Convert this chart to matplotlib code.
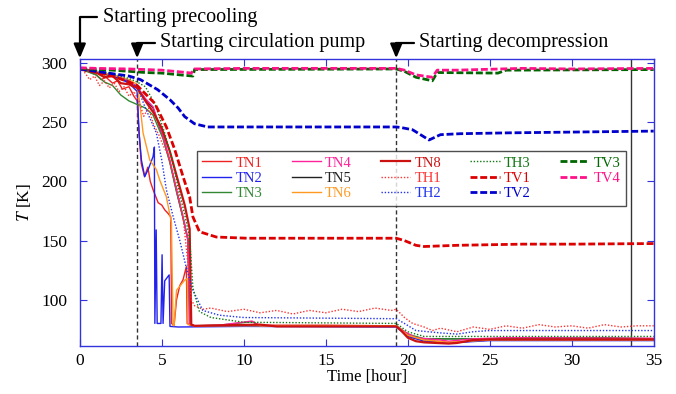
import matplotlib
matplotlib.use('Agg')
import matplotlib.pyplot as plt

# Datos (tiempo en horas, temperatura en K)
tn1_time = [0, 0.5, 1, 1.3, 1.6, 2, 2.3, 2.6, 3, 3.3, 3.5, 3.6, 3.75, 3.95, 4.15, 4.3, 4.47, 4.78, 5.0, 5.18,
            5.38, 5.55, 5.6, 5.75, 5.9, 6.1, 6.3, 6.5, 6.55, 7, 10, 15, 19.3, 19.8, 20.3, 21, 22.5, 24, 25, 35]
tn1_temp = [295, 293, 290, 286, 288, 283, 285, 278, 280, 272, 268, 245, 215, 204, 212, 200, 193, 182, 180, 176,
            173, 170, 80, 78, 100, 112, 117, 128, 80, 78, 78.5, 78.5, 78, 73, 68, 66, 64, 65, 66, 66]

tn2_time = [0, 1, 2, 3, 3.5, 3.62, 3.76, 3.96, 4.17, 4.47, 4.55, 4.58, 4.66, 4.72, 4.95, 5.02, 5.08,
            5.18, 5.45, 5.5, 6, 10, 19.3, 20, 21, 22.5, 25, 35]
tn2_temp = [295, 293, 290, 283, 276, 240, 218, 204, 210, 221, 229, 80, 159, 80, 80, 138, 80,
            116, 121, 77.5, 77, 77.5, 77, 69, 65, 63.5, 65.5, 65.5]

tn3_time = [0, 1, 1.5, 2, 2.5, 3, 3.5, 4, 4.47, 5.08, 5.49, 5.9, 6.3, 6.6, 6.7, 7, 8.5, 10.5, 11,
            19.3, 20, 21, 25, 27, 32, 35]
tn3_temp = [295, 290, 284, 281, 273, 268, 265, 262, 256, 236, 216, 191, 169, 150, 79, 78, 78.5, 81.5, 78,
            78, 71, 67, 67, 68, 68, 67]

tn4_time = [0, 1, 2, 3, 3.5, 4, 4.47, 5.08, 5.49, 5.9, 6.3, 6.6, 6.7, 7, 8.5, 10.5, 11,
            19.3, 19.8, 20.5, 22, 22.5, 24, 26, 35]
tn4_temp = [296, 293, 290, 285, 280, 270, 263, 238, 218, 193, 170, 150, 79, 78, 78.5, 82, 78,
            78, 73, 68, 66, 65, 67, 68, 67.5]

tn5_time = [0, 1, 2, 3, 3.5, 4, 4.47, 5.08, 5.49, 5.9, 6.3, 6.6, 6.7, 7, 19.3, 20, 21, 25, 35]
tn5_temp = [295, 292, 289, 284, 279, 269, 262, 237, 217, 192, 169, 151, 79, 78, 78, 70, 67, 67, 67]

tn6_time = [0, 1, 2, 3, 3.5, 3.66, 3.86, 4.27, 4.67, 4.88, 5.28, 5.59, 5.69, 5.75, 5.9, 6.4, 6.55,
            6.6, 7, 19.3, 20, 21, 22.5, 25, 35]
tn6_temp = [295, 293, 290, 286, 282, 266, 241, 218, 210, 201, 187, 165, 78.5, 78, 108, 116.5, 118,
            79, 78, 78, 70, 66, 64, 66, 66]

tn8_time = [0, 1, 1.5, 2, 2.5, 3, 3.5, 4, 4.5, 5, 5.5, 6, 6.4, 6.7, 6.8, 7, 11, 12, 19.3, 19.6, 20, 20.5,
            21, 22.5, 23, 24, 25, 35]
tn8_temp = [296, 292, 288, 289, 283, 282, 279, 268, 258, 245, 225, 200, 180, 160, 79, 78, 79, 77.5, 77.5, 74,
            68, 65, 64, 63, 63.5, 66, 66.5, 66.5]

th1_time = [0, 0.3, 0.6, 0.9, 1.2, 1.5, 1.8, 2.1, 2.4, 2.7, 3.0, 3.3, 3.6, 3.9, 4.2, 4.5, 4.8, 5.1, 5.4,
            5.7, 6.0, 6.3, 6.6, 6.8, 7.0, 7.5, 8, 9, 10, 11, 12, 13, 14, 15, 16, 17, 18, 19, 19.3,
            19.8, 20.3, 21, 21.5, 22, 23, 24, 25, 26, 27, 28, 29, 30, 31, 32, 33, 34, 35]
th1_temp = [296, 292, 286, 289, 281, 285, 279, 283, 276, 280, 272, 276, 268, 255, 262, 248, 240, 230, 222,
            205, 190, 170, 130, 100, 95, 92, 93, 90, 92, 89, 91, 88, 91, 89, 92, 90, 93, 91, 92,
            85, 80, 77, 74, 76, 73, 77, 75, 78, 76, 79, 77, 78, 76, 79, 77, 78, 78]

th2_time = [0, 1, 2, 3, 3.5, 4.0, 4.67, 5.0, 5.28, 5.7, 6.1, 6.5, 6.9, 7.5, 8.5, 10, 19.3,
            19.8, 20.5, 22, 23, 24, 25, 35]
th2_temp = [295, 293, 290, 285, 280, 262, 241, 218, 193, 170, 150, 127, 108, 91, 87, 85, 84,
            80, 74, 72, 71, 73, 74, 74]

th3_time = [0, 1, 2, 3, 3.5, 4, 4.6, 5.2, 5.6, 6.0, 6.4, 6.7, 6.9, 7.3, 8, 10, 19.3, 20, 21, 25, 35]
th3_temp = [295, 294, 291, 287, 284, 280, 265, 240, 220, 195, 172, 152, 110, 90, 85, 81, 80, 73, 69, 69, 69]

tv1_time = [0, 1, 2, 3, 3.5, 4, 4.57, 5.28, 5.79, 6.3, 6.7, 6.9, 7.3, 8.33, 10.2, 19.3, 19.8, 20.5,
            21, 23, 27, 30, 35]
tv1_temp = [295, 292, 289, 284, 281, 274, 266, 246, 227, 204, 187, 170, 157.5, 153, 152, 152, 150, 146,
            145, 146, 147, 147, 147.5]

tv2_time = [0, 1, 2, 3, 3.7, 4.75, 5.5, 6, 6.4, 7, 7.8, 19.3, 19.6, 20.3, 21.3, 22, 23.2, 26, 35]
tv2_temp = [295, 293, 291, 289, 286, 277.5, 269, 262, 254.7, 248.7, 246, 246, 245.5, 243.6, 235, 239.5, 240.3,
            241, 242.5]

tv3_time = [0, 2, 4, 5, 6.5, 6.9, 7.0, 19.3, 19.8, 20.5, 21.5, 21.8, 25.5, 26, 35]
tv3_temp = [295.5, 294, 292, 291.5, 289.5, 289, 294.5, 295, 293, 288, 285, 292, 291.5, 294, 294.5]

tv4_time = [0, 1, 3, 5, 6.5, 6.8, 7.0, 10, 19.3, 19.8, 20.5, 21.5, 21.8, 23, 27, 30, 35]
tv4_temp = [296, 295.5, 295, 294, 292, 291.5, 295, 295.5, 295.5, 294, 290, 288, 294, 294, 295.5, 295, 295.5]

# Eventos marcados en la gráfica
event_times = [0, 3.5, 19.3]
event_labels = ['Starting precooling', 'Starting circulation pump', 'Starting decompression']
event_label_y = [1.148, 1.058, 1.058]
stop_time = 33.6

plt.rcParams['font.family'] = ['Liberation Serif', 'DejaVu Serif']
plt.rcParams['mathtext.fontset'] = 'stix'

fig = plt.figure(figsize=(6.76, 3.94), dpi=100)
ax = fig.add_axes([0.118, 0.122, 0.849, 0.727])

# Estilos de cada serie
tn_lw = 1.0
th_ls = (0, (1, 1.3))
tv_ls = (0, (2.5, 1.0))
ax.plot(tn5_time, tn5_temp, color='#222222', lw=tn_lw, label='TN5')
ax.plot(tn1_time, tn1_temp, color='#ee2222', lw=tn_lw, label='TN1')
ax.plot(tn2_time, tn2_temp, color='#2222ee', lw=tn_lw, label='TN2')
ax.plot(tn3_time, tn3_temp, color='#338833', lw=tn_lw, label='TN3')
ax.plot(tn4_time, tn4_temp, color='#ff2299', lw=tn_lw, label='TN4')
ax.plot(tn6_time, tn6_temp, color='#ff9922', lw=tn_lw, label='TN6')
ax.plot(tn8_time, tn8_temp, color='#cc1111', lw=1.6, label='TN8')
ax.plot(th1_time, th1_temp, color='#ff3333', lw=1.0, ls=th_ls, label='TH1')
ax.plot(th2_time, th2_temp, color='#2233ee', lw=1.0, ls=th_ls, label='TH2')
ax.plot(th3_time, th3_temp, color='#117711', lw=1.0, ls=th_ls, label='TH3')
ax.plot(tv1_time, tv1_temp, color='#dd0000', lw=2.0, ls=tv_ls, label='TV1')
ax.plot(tv2_time, tv2_temp, color='#0000cc', lw=2.0, ls=tv_ls, label='TV2')
ax.plot(tv3_time, tv3_temp, color='#006600', lw=2.0, ls=tv_ls, label='TV3')
ax.plot(tv4_time, tv4_temp, color='#ff1188', lw=2.0, ls=tv_ls, label='TV4')

# Líneas verticales de eventos
for t in event_times[1:]:
    ax.axvline(t, color='#333333', lw=1.0, ls=(0, (3, 2)), zorder=1)
ax.axvline(stop_time, color='#333333', lw=1.0, zorder=1)

ax.set_xlim(0, 35)
ax.set_ylim(61, 303)
ax.set_xticks([0, 5, 10, 15, 20, 25, 30, 35])
ax.set_yticks([100, 150, 200, 250, 300])
ax.set_xlabel('Time [hour]', fontsize=12, labelpad=0)
ax.set_ylabel('$T$ [K]', fontsize=12.5, labelpad=6)

frame_color = '#3333dd'
for s in ax.spines.values():
    s.set_color(frame_color)
    s.set_linewidth(1.0)
ax.tick_params(direction='in', length=5, color=frame_color, labelsize=12.5,
               top=True, right=True, labelcolor='black')
ax.tick_params(axis='y', pad=9)
ax.tick_params(axis='x', pad=5)

# Leyenda en orden de columnas como en la figura original
order = ['TN1', 'TN2', 'TN3', 'TN4', 'TN5', 'TN6', 'TN8', 'TH1', 'TH2', 'TH3', 'TV1', 'TV2', 'TV3', 'TV4']
handles = {h.get_label(): h for h in ax.get_lines() if not h.get_label().startswith('_')}
leg = ax.legend([handles[k] for k in order], order, ncol=5, loc='center',
                bbox_to_anchor=(0.204, 0.482, 0.747, 0.206), mode='expand', borderaxespad=0,
                fontsize=10.5, frameon=True, fancybox=False,
                edgecolor='#222222', labelcolor='linecolor', handlelength=2.0,
                handletextpad=0.3, labelspacing=0.15, borderpad=0.37)
leg.get_frame().set_linewidth(1.0)

# Flechas con etiqueta para cada evento
xform = ax.get_xaxis_transform()
for t, txt, ty in zip(event_times, event_labels, event_label_y):
    ax.annotate(txt, xy=(t, 1.004), xycoords=xform,
                xytext=(t + 1.4, ty), textcoords=xform,
                ha='left', va='center', fontsize=14.5, annotation_clip=False,
                arrowprops=dict(arrowstyle='-|>,head_length=0.86,head_width=0.36',
                                mutation_scale=10, color='black', lw=1.6,
                                connectionstyle='angle,angleA=0,angleB=90,rad=0',
                                relpos=(0, 0.5), shrinkA=2, shrinkB=0))

fig.savefig('out.png', dpi=100)
